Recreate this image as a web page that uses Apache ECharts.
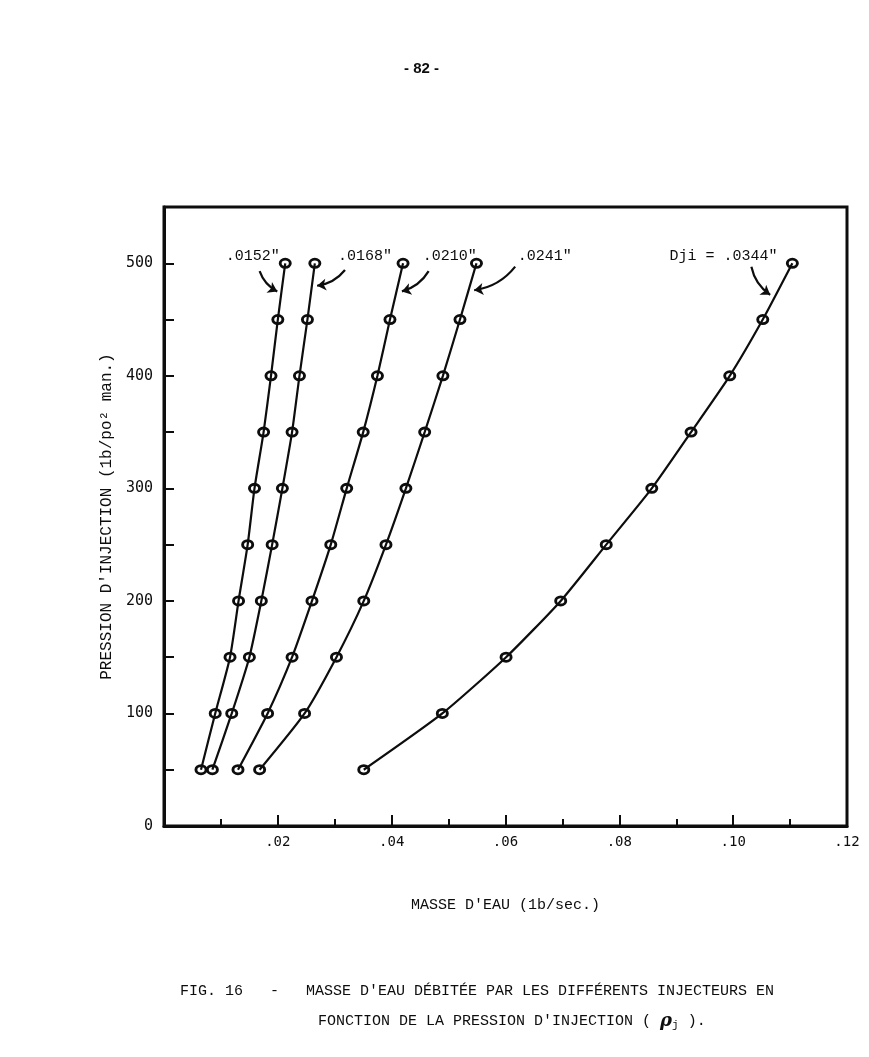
<!DOCTYPE html>
<html>
<head>
<meta charset="utf-8">
<style>
  body { margin: 0; background: #fff; }
  #chart { width: 869px; height: 1057px; }
</style>
<script src="https://cdn.jsdelivr.net/npm/echarts@6/dist/echarts.min.js"></script>
</head>
<body>
<div id="chart"></div>
<script>
// pression d'injection (lb/po2) - memes paliers pour tous les injecteurs
const pressure = [50, 100, 150, 200, 250, 300, 350, 400, 450, 500]

// masse d'eau (lb/sec), par diametre d'injecteur
const d0152 = [0.0065, 0.0090, 0.0116, 0.0131, 0.0147, 0.0159, 0.0175, 0.0188, 0.0200, 0.0213]
const d0168 = [0.0085, 0.0119, 0.0150, 0.0171, 0.0190, 0.0208, 0.0225, 0.0238, 0.0252, 0.0265]
const d0210 = [0.0130, 0.0182, 0.0225, 0.0260, 0.0293, 0.0321, 0.0350, 0.0375, 0.0397, 0.0420]
const d0241 = [0.0168, 0.0247, 0.0303, 0.0351, 0.0390, 0.0425, 0.0458, 0.0490, 0.0520, 0.0549]
const d0344 = [0.0351, 0.0489, 0.0601, 0.0697, 0.0777, 0.0857, 0.0926, 0.0994, 0.1052, 0.1104]

const seriesNames = ['.0152"', '.0168"', '.0210"', '.0241"', 'Dji = .0344"']
const seriesData = [d0152, d0168, d0210, d0241, d0344]

// etiquettes : [x, pression] du texte
const labelX = [0.0156, 0.0353, 0.0502, 0.0669, 0.0983]
const labelY = [506, 506, 506, 506, 506]
// fleches : depart et arrivee [x, pression]
const arrowFrom = [[0.0168, 493], [0.0318, 494], [0.0465, 493], [0.0617, 497], [0.1032, 497]]
const arrowTo = [[0.0199, 475], [0.0269, 480], [0.0418, 475], [0.0545, 476], [0.1065, 472]]
const arrowBend = [-0.2, 0.2, 0.2, 0.2, -0.2]

const xTicks = [0, 0.12, 0.02]
const yTicks = [0, 550, 100]

const mono = 'Liberation Mono'
const ink = '#0d0d0d'

// petit cercle creux, la courbe le traverse
const ring = 'path://M-6.5,0 A6.5,5.5 0 1,1 6.5,0 A6.5,5.5 0 1,1 -6.5,0 Z M-3.6,0 A3.6,2.7 0 1,0 3.6,0 A3.6,2.7 0 1,0 -3.6,0 Z'

const chart = echarts.init(document.getElementById('chart'))

const series = seriesData.map((vals, i) => {
  return {
    name: seriesNames[i],
    type: 'line',
    smooth: 0.2,
    symbol: ring,
    symbolSize: [13, 11],
    data: vals.map((v, k) => [v, pressure[k]]),
    lineStyle: { color: ink, width: 2.2 },
    itemStyle: { color: ink },
    z: 3,
    markPoint: {
      symbol: 'circle',
      symbolSize: 1,
      itemStyle: { color: 'rgba(0,0,0,0)' },
      label: {
        show: true,
        position: 'inside',
        formatter: '{b}',
        color: ink,
        fontFamily: mono,
        fontSize: 15
      },
      data: [{ name: seriesNames[i], coord: [labelX[i], labelY[i]] }]
    }
  }
})

// fleches courbes vers chaque courbe
series.push({
  type: 'lines',
  coordinateSystem: 'cartesian2d',
  silent: true,
  symbol: ['none', 'arrow'],
  symbolSize: 9,
  lineStyle: { color: ink, width: 2.2, opacity: 1 },
  z: 4,
  data: arrowFrom.map((p, i) => ({
    coords: [p, arrowTo[i]],
    lineStyle: { curveness: arrowBend[i] }
  }))
})

chart.setOption({
  animation: false,
  backgroundColor: '#fff',
  grid: {
    left: 164,
    right: 22,
    top: 207,
    bottom: 231,
    show: true,
    borderColor: ink,
    borderWidth: 3
  },
  xAxis: {
    type: 'value',
    min: xTicks[0],
    max: xTicks[1],
    interval: xTicks[2],
    name: "MASSE D'EAU (1b/sec.)",
    nameLocation: 'middle',
    nameGap: 72,
    nameTextStyle: { color: ink, fontFamily: mono, fontSize: 15 },
    axisLine: { lineStyle: { color: ink, width: 3 } },
    axisTick: { inside: true, length: 11, lineStyle: { color: ink, width: 2 } },
    minorTick: { show: true, splitNumber: 2, length: 7, lineStyle: { color: ink, width: 2 } },
    splitLine: { show: false },
    axisLabel: {
      color: ink,
      fontFamily: 'DejaVu Sans Mono',
      fontSize: 14,
      margin: 9,
      formatter: v => (v === 0 ? '' : v.toFixed(2).replace(/^0/, ''))
    }
  },
  yAxis: {
    type: 'value',
    min: yTicks[0],
    max: yTicks[1],
    interval: yTicks[2],
    name: "PRESSION D'INJECTION (1b/po² man.)",
    nameLocation: 'middle',
    nameRotate: 90,
    nameGap: 38,
    nameTextStyle: { color: ink, fontFamily: mono, fontSize: 16 },
    axisLine: { lineStyle: { color: ink, width: 3 } },
    axisTick: { inside: true, length: 10, lineStyle: { color: ink, width: 2 } },
    minorTick: { show: true, splitNumber: 2, length: 10, lineStyle: { color: ink, width: 2 } },
    splitLine: { show: false },
    axisLabel: {
      color: ink,
      fontFamily: 'DejaVu Sans Mono',
      fontSize: 15,
      margin: 11,
      formatter: v => (v % 100 === 0 ? String(v) : '')
    }
  },
  graphic: [
    {
      type: 'text',
      left: 404,
      top: 61,
      style: { text: '- 82 -', fontFamily: 'Liberation Sans Narrow, Liberation Sans', fontWeight: 'bold', fontSize: 15, fill: ink }
    },
    {
      type: 'text',
      left: 180,
      top: 984,
      style: {
        text: "FIG. 16   -   MASSE D'EAU DÉBITÉE PAR LES DIFFÉRENTS INJECTEURS EN",
        fontFamily: mono,
        fontSize: 15,
        fill: ink
      }
    },
    {
      type: 'text',
      left: 318,
      top: 1012,
      style: {
        text: "FONCTION DE LA PRESSION D'INJECTION ( {r|ρ}{s|j} ).",
        rich: {
          r: { fontFamily: 'DejaVu Serif', fontStyle: 'italic', fontWeight: 'bold', fontSize: 18, fill: ink },
          s: { fontFamily: mono, fontSize: 11, fill: ink, padding: [8, 0, 0, 0] }
        },
        fontFamily: mono,
        fontSize: 15,
        fill: ink
      }
    }
  ],
  series: series
})
</script>
</body>
</html>
